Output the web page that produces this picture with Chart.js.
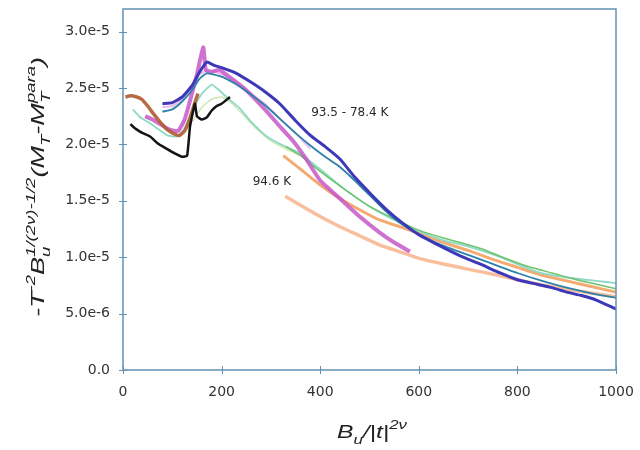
<!DOCTYPE html>
<html lang="en">
<head>
<meta charset="UTF-8">
<title>Scaled magnetization vs B/|t|^2v</title>
<script src="https://cdn.jsdelivr.net/npm/chart.js@4"></script>
<style>
  html, body { margin: 0; padding: 0; background: #fff; }
  #chart { display: block; }
</style>
</head>
<body>
<canvas id="chart" width="640" height="450"></canvas>
<script>
// x in B_u/|t|^(2v), y in units of 1e-5
const blackX = [15, 25, 32, 40, 55, 70, 89, 105, 120, 130, 136, 146, 150, 160, 170, 180, 190, 200, 217];
const blackY = [2.18, 2.14, 2.12, 2.10, 2.07, 2.01, 1.96, 1.92, 1.89, 1.90, 2.16, 2.36, 2.25, 2.22, 2.24, 2.30, 2.34, 2.36, 2.42];

const brownX = [5, 15, 28, 38, 50, 62, 75, 90, 105, 115, 125, 135, 145, 152];
const brownY = [2.42, 2.43, 2.42, 2.40, 2.34, 2.27, 2.20, 2.13, 2.09, 2.08, 2.12, 2.22, 2.36, 2.45];

const blueX = [80, 100, 120, 140, 155, 170, 185, 200, 230, 260, 290, 318, 350, 380, 410, 440, 470, 507, 535, 562, 600, 643, 685, 724, 765, 800, 840, 870, 900, 930, 960, 1000];
const blueY = [2.36, 2.37, 2.42, 2.52, 2.64, 2.73, 2.70, 2.68, 2.63, 2.55, 2.46, 2.36, 2.21, 2.08, 1.98, 1.87, 1.71, 1.54, 1.42, 1.32, 1.20, 1.10, 1.01, 0.94, 0.86, 0.80, 0.76, 0.73, 0.69, 0.66, 0.62, 0.54];

const tealX = [80, 100, 120, 140, 155, 170, 200, 230, 260, 290, 320, 350, 380, 410, 440, 470, 500, 530, 560, 600, 650, 700, 750, 800, 850, 900, 950, 1000];
const tealY = [2.29, 2.31, 2.38, 2.48, 2.58, 2.63, 2.60, 2.53, 2.44, 2.34, 2.22, 2.10, 1.99, 1.89, 1.80, 1.68, 1.55, 1.42, 1.31, 1.20, 1.10, 1.02, 0.94, 0.86, 0.79, 0.73, 0.68, 0.64];

const magentaX = [45, 60, 75, 95, 112, 125, 138, 150, 158, 163, 168, 178, 195, 215, 250, 290, 320, 345, 370, 400, 440, 480, 520, 550, 582];
const magentaY = [2.25, 2.22, 2.18, 2.13, 2.12, 2.22, 2.42, 2.62, 2.78, 2.86, 2.66, 2.64, 2.66, 2.60, 2.48, 2.30, 2.15, 2.03, 1.88, 1.68, 1.52, 1.36, 1.22, 1.13, 1.05];

const pinkX = [80, 100, 120, 140, 155, 175, 200, 230, 260, 290, 320, 350, 380];
const pinkY = [2.33, 2.34, 2.40, 2.50, 2.62, 2.66, 2.62, 2.55, 2.45, 2.35, 2.22, 2.10, 1.96];

const mintX = [20, 35, 50, 70, 90, 110, 125, 140, 160, 180, 195, 215, 237, 260, 292, 320, 359, 400, 450, 500, 550, 600, 650, 704, 760, 840, 900, 960, 1000];
const mintY = [2.31, 2.24, 2.20, 2.14, 2.08, 2.07, 2.14, 2.30, 2.45, 2.53, 2.48, 2.40, 2.32, 2.20, 2.07, 2.00, 1.92, 1.78, 1.60, 1.45, 1.33, 1.23, 1.15, 1.09, 1.01, 0.87, 0.82, 0.79, 0.77];

const paleX = [140, 160, 180, 200, 217, 240, 270, 300, 330, 360];
const paleY = [2.20, 2.33, 2.40, 2.42, 2.38, 2.28, 2.14, 2.03, 1.96, 1.90];

const greenX = [330, 360, 400, 450, 500, 550, 600, 650, 700, 730, 770, 820, 870, 920, 960, 1000];
const greenY = [1.98, 1.90, 1.76, 1.60, 1.45, 1.34, 1.24, 1.17, 1.11, 1.07, 1.00, 0.92, 0.86, 0.80, 0.76, 0.72];

const orangeX = [325, 360, 400, 440, 480, 520, 562, 600, 650, 700, 750, 800, 850, 900, 950, 1000];
const orangeY = [1.90, 1.78, 1.64, 1.52, 1.42, 1.33, 1.27, 1.21, 1.13, 1.06, 0.98, 0.91, 0.84, 0.79, 0.74, 0.69];

const peachX = [329, 360, 400, 440, 480, 520, 560, 600, 650, 704, 760, 820, 880, 940, 1000];
const peachY = [1.54, 1.46, 1.36, 1.27, 1.19, 1.11, 1.05, 0.99, 0.94, 0.89, 0.84, 0.78, 0.73, 0.69, 0.65];

const xTickValues = [0, 200, 400, 600, 800, 1000];
const xTickLabels = ['0', '200', '400', '600', '800', '1000'];
const yTickValues = [0, 0.5e-5, 1.0e-5, 1.5e-5, 2.0e-5, 2.5e-5, 3.0e-5];
const yTickLabels = ['0.0', '5.0e-6', '1.0e-5', '1.5e-5', '2.0e-5', '2.5e-5', '3.0e-5'];

const curveLabels = [
  { text: '93.5 - 78.4 K', x: 460, y: 2.28e-5 },
  { text: '94.6 K', x: 302, y: 1.67e-5 }
];

const axisColor = '#6391b2';

function series(xs, ys, color, width) {
  return {
    data: xs.map((x, i) => ({ x: x, y: ys[i] * 1e-5 })),
    borderColor: color,
    borderWidth: width,
    pointRadius: 0,
    tension: 0.15,
    fill: false
  };
}

// first dataset is drawn on top
const datasets = [
  series(blackX, blackY, '#141414', 2.5),
  series(brownX, brownY, 'rgba(176,92,50,0.9)', 3.5),
  series(blueX, blueY, '#3d38b8', 3),
  series(tealX, tealY, '#2b82aa', 1.8),
  series(magentaX, magentaY, 'rgba(198,88,200,0.85)', 4),
  series(pinkX, pinkY, 'rgba(222,140,222,0.6)', 2),
  series(greenX, greenY, '#6cc46c', 1.5),
  series(mintX, mintY, '#8fd9c6', 1.8),
  series(paleX, paleY, '#cfe6b0', 1.5),
  series(orangeX, orangeY, 'rgba(240,150,80,0.8)', 3),
  series(peachX, peachY, 'rgba(248,180,140,0.85)', 3.5)
];

function drawRich(ctx, parts, x, y, base, small, draw) {
  let cx = x, held = 0;
  parts.forEach(p => {
    const sz = p.k ? small : base;
    ctx.font = 'italic ' + sz + 'px "Liberation Sans", Arial, sans-serif';
    const dy = p.k === 'sup' ? -base * 0.45 : p.k === 'sub' ? base * 0.3 : 0;
    const w = ctx.measureText(p.t).width;
    if (draw) ctx.fillText(p.t, cx, y + dy);
    if (p.hold) {
      held = Math.max(held, w);
    } else {
      cx += Math.max(w, held);
      held = 0;
    }
  });
  return cx - x;
}

function drawTitle(ctx, parts, cx, cy, angle, length, base, small) {
  const w = drawRich(ctx, parts, 0, 0, base, small, false);
  ctx.save();
  ctx.translate(cx, cy);
  ctx.rotate(angle);
  ctx.scale(length / w, 1);
  ctx.fillStyle = '#222';
  ctx.textBaseline = 'alphabetic';
  ctx.textAlign = 'left';
  drawRich(ctx, parts, -w / 2, 0, base, small, true);
  ctx.restore();
}

const yTitle = [
  { t: '-T' }, { t: '-2', k: 'sup' }, { t: 'B' }, { t: 'u', k: 'sub', hold: true },
  { t: '1/(2\u03bd)-1/2', k: 'sup' }, { t: '(M' }, { t: 'T', k: 'sub' }, { t: '-M' },
  { t: 'T', k: 'sub', hold: true }, { t: 'para', k: 'sup' }, { t: ')' }
];
const xTitle = [{ t: 'B' }, { t: 'u', k: 'sub' }, { t: '/|t|' }, { t: '2\u03bd', k: 'sup' }];

const framePlugin = {
  id: 'frame',
  afterDraw(chart) {
    const ctx = chart.ctx;
    const a = chart.chartArea;
    const xs = chart.scales.x, ys = chart.scales.y;
    ctx.save();
    ctx.strokeStyle = axisColor;
    ctx.lineWidth = 1.5;
    ctx.strokeRect(a.left, a.top, a.right - a.left, a.bottom - a.top);
    ctx.lineWidth = 1;
    ctx.beginPath();
    xTickValues.forEach(v => {
      const px = Math.round(xs.getPixelForValue(v)) + 0.5;
      ctx.moveTo(px, a.bottom - 4);
      ctx.lineTo(px, a.bottom + 4);
    });
    yTickValues.forEach(v => {
      const py = Math.round(ys.getPixelForValue(v)) + 0.5;
      ctx.moveTo(a.left - 4, py);
      ctx.lineTo(a.left + 4, py);
    });
    ctx.stroke();

    ctx.fillStyle = '#2a2a2a';
    ctx.font = '12px "DejaVu Sans", sans-serif';
    ctx.textAlign = 'center';
    ctx.textBaseline = 'middle';
    curveLabels.forEach(l => {
      ctx.fillText(l.text, xs.getPixelForValue(l.x), ys.getPixelForValue(l.y));
    });
    ctx.restore();

    drawTitle(ctx, xTitle, 372, 438, 0, 70, 19, 13);
    drawTitle(ctx, yTitle, 44, 187, -Math.PI / 2, 260, 19, 13);
  }
};

new Chart(document.getElementById('chart').getContext('2d'), {
  type: 'line',
  data: { datasets: datasets },
  options: {
    responsive: false,
    animation: false,
    layout: { padding: { top: 9, right: 24, left: 0, bottom: 0 } },
    plugins: { legend: { display: false }, tooltip: { enabled: false } },
    scales: {
      x: {
        type: 'linear',
        min: 0,
        max: 1000,
        afterBuildTicks(s) { s.ticks = xTickValues.map(v => ({ value: v })); },
        afterFit(s) { s.height = 80; s.paddingLeft = 0; s.paddingRight = 0; },
        grid: { drawOnChartArea: false, drawTicks: false },
        border: { display: false },
        ticks: {
          padding: 14,
          maxRotation: 0,
          color: '#333',
          font: { family: '"DejaVu Sans", sans-serif', size: 14 },
          callback: (v, i) => xTickLabels[i]
        }
      },
      y: {
        type: 'linear',
        min: 0,
        max: 3.2e-5,
        afterBuildTicks(s) { s.ticks = yTickValues.map(v => ({ value: v })); },
        afterFit(s) { s.width = 123; s.paddingTop = 0; s.paddingBottom = 0; },
        grid: { drawOnChartArea: false, drawTicks: false },
        border: { display: false },
        ticks: {
          padding: 13,
          color: '#333',
          font: { family: '"DejaVu Sans", sans-serif', size: 14 },
          callback: (v, i) => yTickLabels[i]
        }
      }
    }
  },
  plugins: [framePlugin]
});
</script>
</body>
</html>
